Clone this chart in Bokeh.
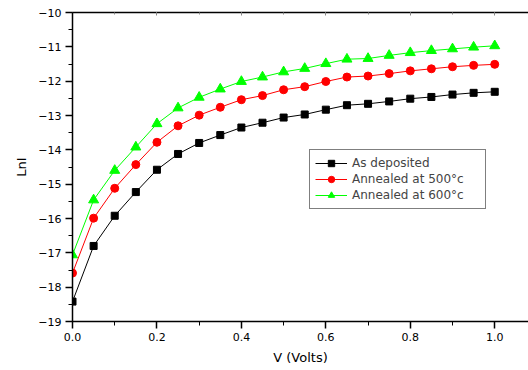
from bokeh.plotting import figure
from bokeh.models import LinearAxis, Range1d, SingleIntervalTicker, Legend, NumeralTickFormatter
from bokeh.embed import file_html
from bokeh.resources import INLINE

V = [0.0, 0.05, 0.1, 0.15, 0.2, 0.25, 0.3, 0.35, 0.4, 0.45, 0.5,
     0.55, 0.6, 0.65, 0.7, 0.75, 0.8, 0.85, 0.9, 0.95, 1.0]
as_deposited = [-18.42, -16.80, -15.92, -15.23, -14.58, -14.12, -13.80, -13.57, -13.35, -13.21, -13.06,
                -12.97, -12.83, -12.70, -12.66, -12.59, -12.51, -12.46, -12.39, -12.34, -12.31]
annealed_500 = [-17.59, -15.99, -15.12, -14.43, -13.78, -13.30, -12.99, -12.76, -12.54, -12.42, -12.25,
                -12.16, -12.01, -11.88, -11.85, -11.78, -11.70, -11.64, -11.58, -11.54, -11.51]
annealed_600 = [-17.06, -15.46, -14.60, -13.92, -13.24, -12.78, -12.47, -12.23, -12.01, -11.88, -11.73,
                -11.63, -11.49, -11.36, -11.34, -11.25, -11.17, -11.11, -11.06, -11.01, -10.97]
labels = ["As deposited", "Annealed at 500\u00b0c", "Annealed at 600\u00b0c"]

FONT = "DejaVu Sans"

p = figure(width=528, height=370, output_backend="svg", toolbar_location=None,
           x_range=Range1d(0, 1.08), y_range=Range1d(-19, -10),
           min_border_left=72, min_border_right=0, min_border_top=12, min_border_bottom=49)
p.outline_line_color = None
p.grid.visible = False
p.background_fill_color = "white"
p.border_fill_color = "white"

r1l = p.line(V, as_deposited, line_color="black", line_width=1)
r1m = p.scatter(V, as_deposited, marker="square", size=7, fill_color="black", line_color="black")
r2l = p.line(V, annealed_500, line_color="#ff0000", line_width=1)
r2m = p.scatter(V, annealed_500, marker="circle", size=8, fill_color="#ff0000", line_color="#ff0000")
r3l = p.line(V, annealed_600, line_color="#00ff00", line_width=1)
r3m = p.scatter(V, annealed_600, marker="triangle", size=10, fill_color="#00ff00", line_color="#00ff00")

xa = p.xaxis[0]
xa.ticker = SingleIntervalTicker(interval=0.2, num_minor_ticks=2)
xa.axis_label = "V (Volts)"
xa.formatter = NumeralTickFormatter(format="0.0")
ya = p.yaxis[0]
ya.ticker = SingleIntervalTicker(interval=1, num_minor_ticks=2)
ya.axis_label = "LnI"
for ax in (xa, ya):
    ax.axis_line_color = "black"
    ax.axis_line_width = 1.5
    ax.major_tick_line_color = "black"
    ax.minor_tick_line_color = "black"
    ax.major_tick_line_width = 1.5
    ax.major_tick_in = 0
    ax.major_tick_out = 7
    ax.minor_tick_in = 0
    ax.minor_tick_out = 4
    ax.major_label_text_font = FONT
    ax.major_label_text_font_size = "11px"
    ax.major_label_text_color = "black"
    ax.axis_label_text_font = FONT
    ax.axis_label_text_font_size = "13px"
    ax.axis_label_text_font_style = "normal"
    ax.axis_label_text_color = "black"
xa.major_label_standoff = 4
xa.axis_label_standoff = 6
ya.major_label_standoff = 4
ya.axis_label_standoff = 6

top = LinearAxis(ticker=SingleIntervalTicker(interval=0.2, num_minor_ticks=2),
                 major_label_text_font_size="0px", axis_line_color="black", axis_line_width=1.5,
                 major_tick_in=3, major_tick_out=0, minor_tick_in=2, minor_tick_out=0,
                 major_tick_line_color="#888888", minor_tick_line_color="#888888")
top.major_label_text_color = None
p.add_layout(top, "above")

legend = Legend(items=[(labels[0], [r1l, r1m]), (labels[1], [r2l, r2m]), (labels[2], [r3l, r3m])],
                location=(237, 112))
legend.border_line_color = "black"
legend.border_line_width = 1
legend.background_fill_color = "white"
legend.background_fill_alpha = 1
legend.label_text_font = FONT
legend.label_text_font_size = "12px"
legend.label_height = 16
legend.glyph_height = 16
legend.glyph_width = 32
legend.label_standoff = 5
legend.label_width = 128
legend.spacing = 0
legend.padding = 5
legend.margin = 0
p.add_layout(legend, "center")

open("out.html", "w").write(file_html(p, INLINE))
